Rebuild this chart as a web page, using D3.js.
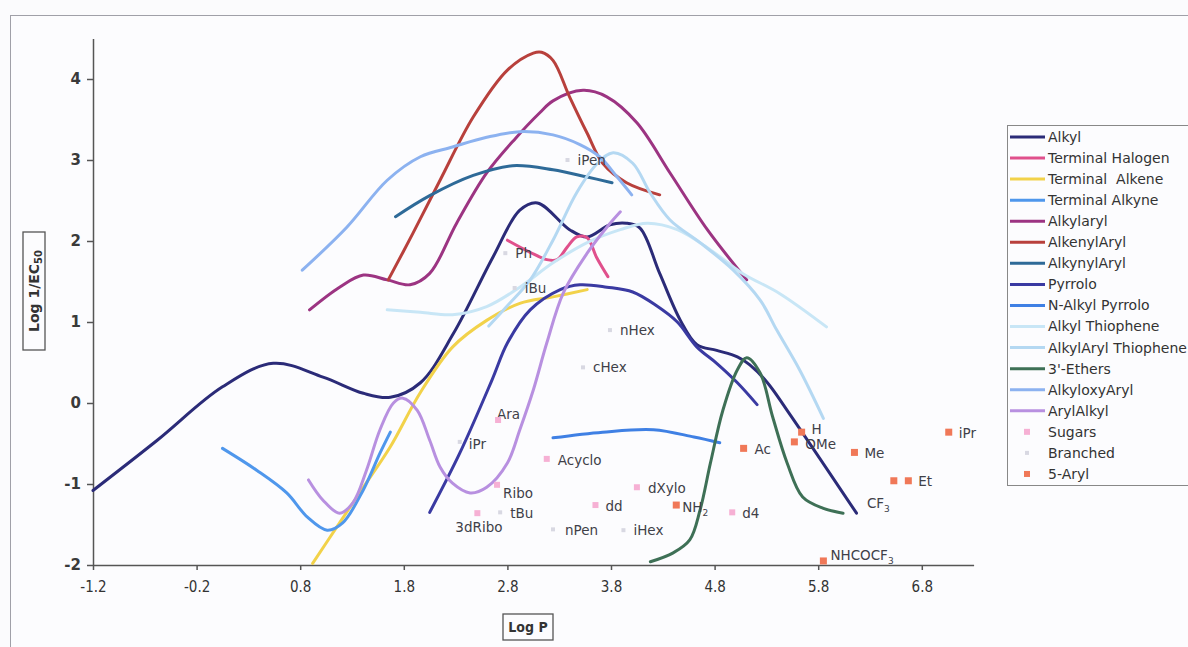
<!DOCTYPE html>
<html><head><meta charset="utf-8">
<script src="https://cdn.jsdelivr.net/npm/d3@7/dist/d3.min.js"></script>
<style>
html,body{margin:0;padding:0;background:#fbfbfd;}
svg{display:block;}
text{font-family:"DejaVu Sans",Verdana,sans-serif;}
</style></head>
<body>
<svg id="chart" width="1188" height="647"></svg>
<script>
// ---------- data ----------
const xTicks = [-1.2, -0.2, 0.8, 1.8, 2.8, 3.8, 4.8, 5.8, 6.8];
const xTickLabels = ["-1.2","-0.2","0.8","1.8","2.8","3.8","4.8","5.8","6.8"];
const yTicks = [-2, -1, 0, 1, 2, 3, 4];
const yTickLabels = ["-2","-1","0","1","2","3","4"];

const seriesNames = ["Alkyl","Terminal Halogen","Terminal  Alkene","Terminal Alkyne","Alkylaryl","AlkenylAryl","AlkynylAryl","Pyrrolo","N-Alkyl Pyrrolo","Alkyl Thiophene","AlkylAryl Thiophene","3'-Ethers","AlkyloxyAryl","ArylAlkyl","Sugars","Branched","5-Aryl"];
const seriesColors = ["#2b2b78","#e0508c","#f2d24a","#4f97ec","#9c3482","#b8403c","#2e6a98","#3a3aa2","#3f80e4","#c8e6f6","#b4d8f2","#3e7056","#8cb2f0","#b890e0","#f6b0d4","#d8d8e2","#f07858"];

const alkyl = [[-1.2,-1.08],[-0.58,-0.46],[0.05,0.2],[0.54,0.49],[1.02,0.32],[1.41,0.12],[1.67,0.07],[1.96,0.25],[2.28,0.86],[2.66,1.80],[2.92,2.38],[3.09,2.47],[3.40,2.14],[3.57,2.05],[3.79,2.2],[3.95,2.22],[4.08,2.16],[4.27,1.6],[4.47,1.02],[4.63,0.72],[4.82,0.65],[5.02,0.57],[5.14,0.47],[5.31,0.25],[5.5,-0.09],[6.17,-1.36]];
const halogen = [[2.8,2.01],[3.02,1.86],[3.18,1.77],[3.28,1.77],[3.38,1.93],[3.47,2.05],[3.57,2.04],[3.66,1.80],[3.77,1.56]];
const alkene = [[0.92,-1.98],[1.18,-1.48],[1.41,-1.04],[1.67,-0.54],[1.96,0.13],[2.27,0.69],[2.6,1.02],[2.92,1.23],[3.24,1.31],[3.57,1.40]];
const alkyne = [[0.05,-0.56],[0.38,-0.83],[0.67,-1.11],[0.87,-1.41],[1.06,-1.57],[1.21,-1.48],[1.41,-1.07],[1.57,-0.62],[1.67,-0.36]];
const alkylaryl = [[0.89,1.15],[1.18,1.43],[1.41,1.58],[1.64,1.52],[1.86,1.46],[2.05,1.60],[2.31,2.22],[2.60,2.84],[2.88,3.27],[3.11,3.58],[3.24,3.73],[3.53,3.86],[3.76,3.78],[4.05,3.46],[4.37,2.84],[4.73,2.14],[5.11,1.52]];
const alkenylaryl = [[1.65,1.52],[1.89,2.1],[2.15,2.75],[2.47,3.53],[2.8,4.11],[3.05,4.32],[3.13,4.33],[3.24,4.23],[3.40,3.78],[3.57,3.33],[3.72,2.96],[3.95,2.72],[4.27,2.57]];
const alkynylaryl = [[1.72,2.30],[2.05,2.56],[2.47,2.81],[2.85,2.93],[3.24,2.88],[3.57,2.79],[3.81,2.72]];
const pyrrolo = [[2.05,-1.35],[2.34,-0.62],[2.65,0.28],[2.8,0.74],[3.02,1.15],[3.31,1.40],[3.5,1.46],[3.76,1.43],[4.01,1.37],[4.24,1.2],[4.44,1.0],[4.63,0.69],[4.82,0.49],[5.02,0.25],[5.21,-0.02]];
const nAlkylPyrrolo = [[3.24,-0.43],[3.72,-0.36],[4.21,-0.33],[4.6,-0.42],[4.85,-0.49]];
const alkylThiophene = [[1.64,1.15],[1.96,1.12],[2.27,1.09],[2.6,1.19],[2.92,1.43],[3.24,1.73],[3.57,1.98],[3.89,2.14],[4.15,2.22],[4.44,2.14],[4.76,1.89],[5.07,1.6],[5.43,1.35],[5.88,0.94]];
const alkylArylThiophene = [[2.62,0.95],[2.8,1.2],[3.02,1.52],[3.24,2.01],[3.47,2.6],[3.67,2.96],[3.82,3.09],[4.01,2.96],[4.18,2.59],[4.37,2.26],[4.66,1.98],[4.98,1.64],[5.24,1.27],[5.40,0.9],[5.62,0.41],[5.85,-0.19]];
const ethers = [[4.18,-1.96],[4.4,-1.85],[4.56,-1.69],[4.66,-1.32],[4.76,-0.74],[4.88,-0.09],[5.02,0.41],[5.11,0.56],[5.24,0.37],[5.36,-0.17],[5.5,-0.74],[5.65,-1.16],[5.85,-1.30],[6.04,-1.36]];
const alkyloxyAryl = [[0.82,1.64],[1.25,2.17],[1.64,2.75],[1.96,3.04],[2.27,3.16],[2.6,3.28],[2.92,3.35],[3.24,3.31],[3.5,3.19],[3.69,3.04],[3.86,2.79],[4.0,2.57]];
const arylAlkyl = [[0.88,-0.95],[1.02,-1.2],[1.18,-1.36],[1.31,-1.23],[1.44,-0.83],[1.57,-0.33],[1.7,0.0],[1.79,0.06],[1.93,-0.09],[2.05,-0.46],[2.15,-0.79],[2.27,-0.99],[2.44,-1.11],[2.6,-1.04],[2.8,-0.74],[2.92,-0.33],[3.05,0.16],[3.18,0.74],[3.34,1.36],[3.57,1.85],[3.76,2.17],[3.89,2.36]];

const sugarNames = ["Ara","Acyclo","Ribo","3dRibo","dd","dXylo","d4"];
const sugarX = [2.71,3.18,2.70,2.51,3.65,4.05,4.97];
const sugarY = [-0.21,-0.69,-1.01,-1.36,-1.26,-1.04,-1.35];

const branchedNames = ["Ph","iBu","iPen","nHex","cHex","iPr","tBu","nPen","iHex"];
const branchedX = [2.78,2.87,3.38,3.79,3.53,2.34,2.73,3.24,3.92];
const branchedY = [1.85,1.42,3.0,0.9,0.44,-0.48,-1.35,-1.56,-1.57];

const arylNames = ["H","OMe","Ac","Me","","Et","iPr","NHCOCF3","NH2"];
const arylX = [5.64,5.57,5.08,6.15,6.53,6.67,7.06,5.85,4.43];
const arylY = [-0.36,-0.48,-0.56,-0.61,-0.96,-0.96,-0.36,-1.95,-1.26];

const extraLabels = ["CF3"]; const extraX = [6.27]; const extraY = [-1.24];

const lineSeries = [alkyl,halogen,alkene,alkyne,alkylaryl,alkenylaryl,alkynylaryl,pyrrolo,nAlkylPyrrolo,alkylThiophene,alkylArylThiophene,ethers,alkyloxyAryl,arylAlkyl];

// ---------- drawing ----------
const svg = d3.select("#chart");
const x = d3.scaleLinear().domain([-1.2, 7.3]).range([93, 973.6]);
const y = d3.scaleLinear().domain([-2, 4.5]).range([565, 38.5]);

// outer frame
svg.append("rect").attr("x",10.5).attr("y",15.5).attr("width",1190).attr("height",640)
  .attr("fill","#fcfcfe").attr("stroke","#a0a0a8").attr("stroke-width",1);

const line = d3.line().x(d=>x(d[0])).y(d=>y(d[1])).curve(d3.curveCatmullRom.alpha(0.5));

// axes
const xAxis = svg.append("g").attr("transform","translate(0,565)")
  .call(d3.axisBottom(x).tickValues(xTicks).tickFormat((d,i)=>xTickLabels[i]).tickSize(5).tickSizeOuter(0));
const yAxis = svg.append("g").attr("transform","translate(93,0)")
  .call(d3.axisLeft(y).tickValues(yTicks).tickFormat((d,i)=>yTickLabels[i]).tickSize(6).tickSizeOuter(0));
[xAxis,yAxis].forEach(g=>{
  g.select(".domain").attr("stroke","#555").attr("stroke-width",1.5);
  g.selectAll(".tick line").attr("stroke","#555").attr("stroke-width",1.5);
  g.selectAll(".tick text").attr("fill","#333").style("font-size","15px");
});
xAxis.selectAll(".tick text").attr("dy","1.25em").style("font-family","'DejaVu Sans Condensed','DejaVu Sans',sans-serif");
yAxis.selectAll(".tick text").attr("dx","-0.2em").style("font-weight","bold").attr("fill","#3a3a3a");

// lines
lineSeries.forEach((s,i)=>{
  svg.append("path").datum(s).attr("d",line).attr("fill","none")
    .attr("stroke",seriesColors[i]).attr("stroke-width",3).attr("stroke-linecap","round").attr("stroke-linejoin","round");
});

// labels helper with subscripts
function addLabel(g, txt, px, py){
  const t = g.append("text").attr("x",px).attr("y",py).attr("dy","0.35em")
    .style("font-size","13.5px").attr("fill","#404048");
  const m = txt.match(/^(.*?)(\d)$/);
  if(m && /[A-Z]$/.test(m[1])){
    t.append("tspan").text(m[1]);
    t.append("tspan").text(m[2]).attr("dy","4").style("font-size","9px");
  } else t.text(txt);
}

// scatter series
const labelG = svg.append("g");
function scatter(names, xs, ys, color, size, offsets){
  xs.forEach((v,i)=>{
    svg.append("rect").attr("x",x(v)-size/2).attr("y",y(ys[i])-size/2)
      .attr("width",size).attr("height",size).attr("fill",color);
    if(names[i]){
      const o = offsets[names[i]] || [10,0];
      addLabel(labelG, names[i], x(v)+o[0], y(ys[i])+o[1]);
    }
  });
}
scatter(sugarNames, sugarX, sugarY, seriesColors[14], 6,
  {"Ara":[-1,-6],"3dRibo":[-22,14],"Ribo":[6,8],"Acyclo":[11,1],"dd":[10,1],"dXylo":[11,1],"d4":[10,1]});
scatter(branchedNames, branchedX, branchedY, seriesColors[15], 4,
  {"iPr":[9,2],"nPen":[12,1],"tBu":[10,1]});
scatter(arylNames, arylX, arylY, seriesColors[16], 7,
  {"H":[10,-3],"OMe":[11,2],"Ac":[11,1],"Me":[10,1],"Et":[10,1],"iPr":[10,1],"NHCOCF3":[7,-6],"NH2":[6,2]});
extraLabels.forEach((t,i)=>addLabel(labelG, t, x(extraX[i]), y(extraY[i])));

// axis titles
const yt = svg.append("g").attr("transform","translate(34,291) rotate(-90)");
yt.append("rect").attr("x",-59).attr("y",-11).attr("width",118).attr("height",22).attr("fill","none").attr("stroke","#555").attr("stroke-width",1.3);
const ytt = yt.append("text").attr("text-anchor","middle").attr("dy","0.35em").style("font-size","14px").style("font-weight","bold").attr("fill","#333");
ytt.append("tspan").text("Log 1/EC");
ytt.append("tspan").text("50").attr("dy","3").style("font-size","10px");

const xt = svg.append("g").attr("transform","translate(528,627)");
xt.append("rect").attr("x",-25).attr("y",-13).attr("width",50).attr("height",26).attr("fill","none").attr("stroke","#555").attr("stroke-width",1.3);
xt.append("text").attr("text-anchor","middle").attr("dy","0.35em").style("font-size","14px").style("font-weight","bold")
  .style("font-family","'DejaVu Sans Condensed','DejaVu Sans',sans-serif").attr("fill","#333").text("Log P");

// legend
const lg = svg.append("g");
lg.append("rect").attr("x",1007.5).attr("y",125.5).attr("width",200).attr("height",360).attr("fill","#fcfcfe").attr("stroke","#888").attr("stroke-width",1);
seriesNames.forEach((n,i)=>{
  const cy = 137 + i*21.06;
  if(i<14){
    lg.append("line").attr("x1",1010).attr("x2",1045).attr("y1",cy).attr("y2",cy).attr("stroke",seriesColors[i]).attr("stroke-width",3);
  } else {
    const s = i===15?4:6;
    lg.append("rect").attr("x",1027-s/2).attr("y",cy-s/2).attr("width",s).attr("height",s).attr("fill",seriesColors[i]);
  }
  lg.append("text").attr("x",1048).attr("y",cy).attr("dy","0.35em").style("font-size","14px").style("white-space","pre").attr("fill","#333").text(n);
});
</script>
</body></html>
